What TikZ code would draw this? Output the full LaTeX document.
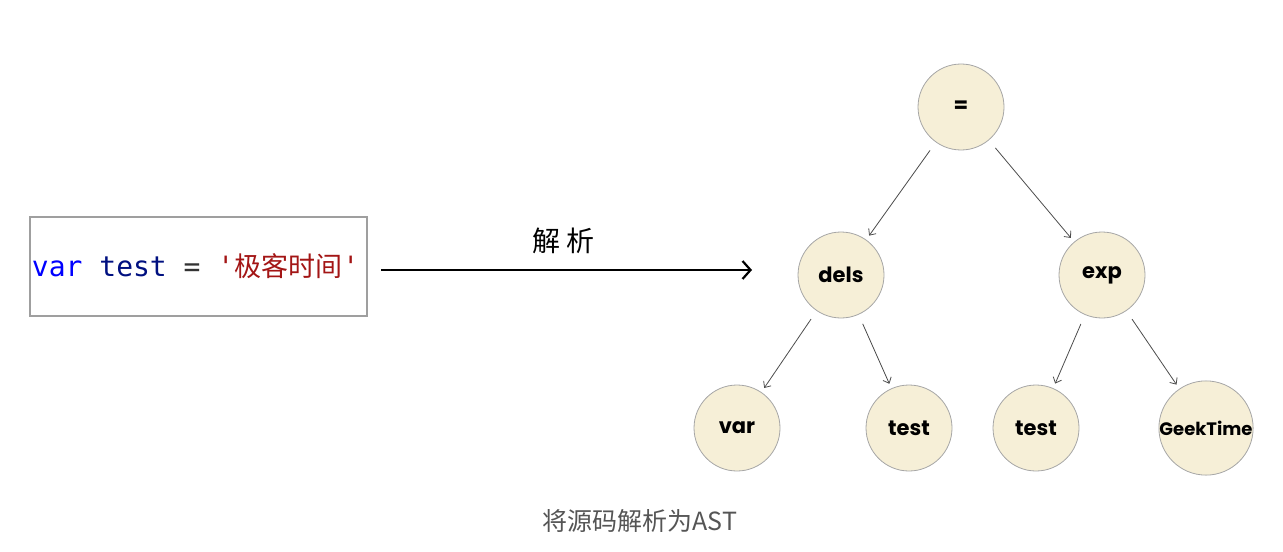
\documentclass[tikz,border=0pt]{standalone}
\usepackage{fontspec}
\usepackage{tikz}
\usetikzlibrary{arrows.meta}
\setmonofont{DejaVu Sans Mono}
\newfontfamily\cjk{Noto Sans CJK SC}
\newfontfamily\treefont{Poppins}
\definecolor{nodefill}{HTML}{F6EFD7}
\definecolor{kwblue}{HTML}{0000FF}
\definecolor{idnavy}{HTML}{001080}
\definecolor{strred}{HTML}{A31515}
\definecolor{captiongray}{HTML}{555555}

\begin{document}
\begin{tikzpicture}[x=0.5pt,y=-0.5pt,
    astnode/.style={circle,draw=gray!70,fill=nodefill,minimum size=43pt,inner sep=0pt,
        font=\treefont\bfseries\fontsize{10.5}{12}\selectfont},
    astedge/.style={draw=black!70,line width=0.4pt,-{Straight Barb[length=2.5pt,width=4.5pt]},
        shorten <=5pt,shorten >=2.5pt}]
    \useasboundingbox (0,0) rectangle (1283,551);

    % Source code
    \node[draw=gray!75,line width=0.6pt,inner xsep=1pt,minimum height=49.5pt]
        (code) at (198.5,266.5) {\makebox[166.5pt][l]{\ttfamily\fontsize{14}{16}\selectfont
        \textcolor{kwblue}{var}~\textcolor{idnavy}{test}~\textcolor{black!80}{=}~%
        \textcolor{strred}{'{\cjk\fontsize{13.5}{16}\selectfont 极客时间}'}}};

    % Parse arrow
    \coordinate (parsestart) at (381,270);
    \coordinate (parseend) at (752,270);
    \draw[line width=1pt,-{Straight Barb[length=4pt,width=9pt,line width=1.1pt]}]
        (parsestart) -- (parseend);
    \node (parselabel) at (563,241) {\cjk\fontsize{14}{16}\selectfont 解\hspace{3pt}析};

    % AST
    \node[astnode] (eq) at (961,107) {=};
    \node[astnode] (dels) at (841,275) {dels};
    \node[astnode] (exp) at (1102,275) {exp};
    \node[astnode] (var) at (737,428) {var};
    \node[astnode] (ltest) at (909,428) {test};
    \node[astnode] (rtest) at (1036,428) {test};
    \node[astnode,font=\treefont\bfseries\fontsize{9}{11}\selectfont] (geek) at (1206,428) {GeekTime};

    \draw[astedge] (eq) -- (dels);
    \draw[astedge] (eq) -- (exp);
    \draw[astedge] (dels) -- (var);
    \draw[astedge] (dels) -- (ltest);
    \draw[astedge] (exp) -- (rtest);
    \draw[astedge] (exp) -- (geek);

    % Caption
    \node[text=captiongray] (caption) at (640,521) {\cjk\fontsize{12.5}{15}\selectfont 将源码解析为AST};
\end{tikzpicture}
\end{document}
